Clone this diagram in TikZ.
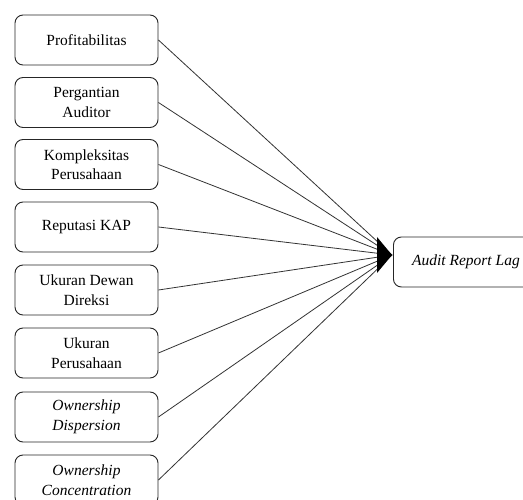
\documentclass[tikz,border=0pt]{standalone}
\usepackage{fontspec}
\setmainfont{Liberation Serif}
\usetikzlibrary{arrows.meta}
\begin{document}
\begin{tikzpicture}[x=1pt,y=-1pt,
  varbox/.style={draw=black!85, line width=0.9pt, rounded corners=8pt,
    minimum width=143pt, minimum height=50pt, align=center, inner sep=0pt,
    font=\fontsize{15.5}{19.5}\selectfont},
  link/.style={draw=black!80, line width=0.8pt},
  head/.style={fill=black}]
\useasboundingbox (0,0) rectangle (523,500);
\fill[white] (0,0) rectangle (523,500);
\node[varbox] (v1) at (86.5,40) {Profitabilitas};
\node[varbox] (v2) at (86.5,102.5) {Pergantian\\Auditor};
\node[varbox] (v3) at (86.5,164.5) {Kompleksitas\\Perusahaan};
\node[varbox] (v4) at (86.5,227) {Reputasi KAP};
\node[varbox] (v5) at (86.5,290) {Ukuran Dewan\\Direksi};
\node[varbox] (v6) at (86.5,353) {Ukuran\\Perusahaan};
\node[varbox] (v7) at (86.5,417) {\itshape Ownership\\\itshape Dispersion};
\node[varbox] (v8) at (86.5,480) {\itshape Ownership\\\itshape Concentration};
\node[varbox, anchor=west, minimum width=145pt] (arl) at (393,262) {\itshape Audit Report Lag};
\coordinate (tip) at (392,255);
\foreach \i in {1,...,8} {
  \draw[link] (v\i.east) -- (tip);
}
\fill[head] (tip) -- ++(-15,-18) -- ++(0,36) -- cycle;
\end{tikzpicture}
\end{document}
